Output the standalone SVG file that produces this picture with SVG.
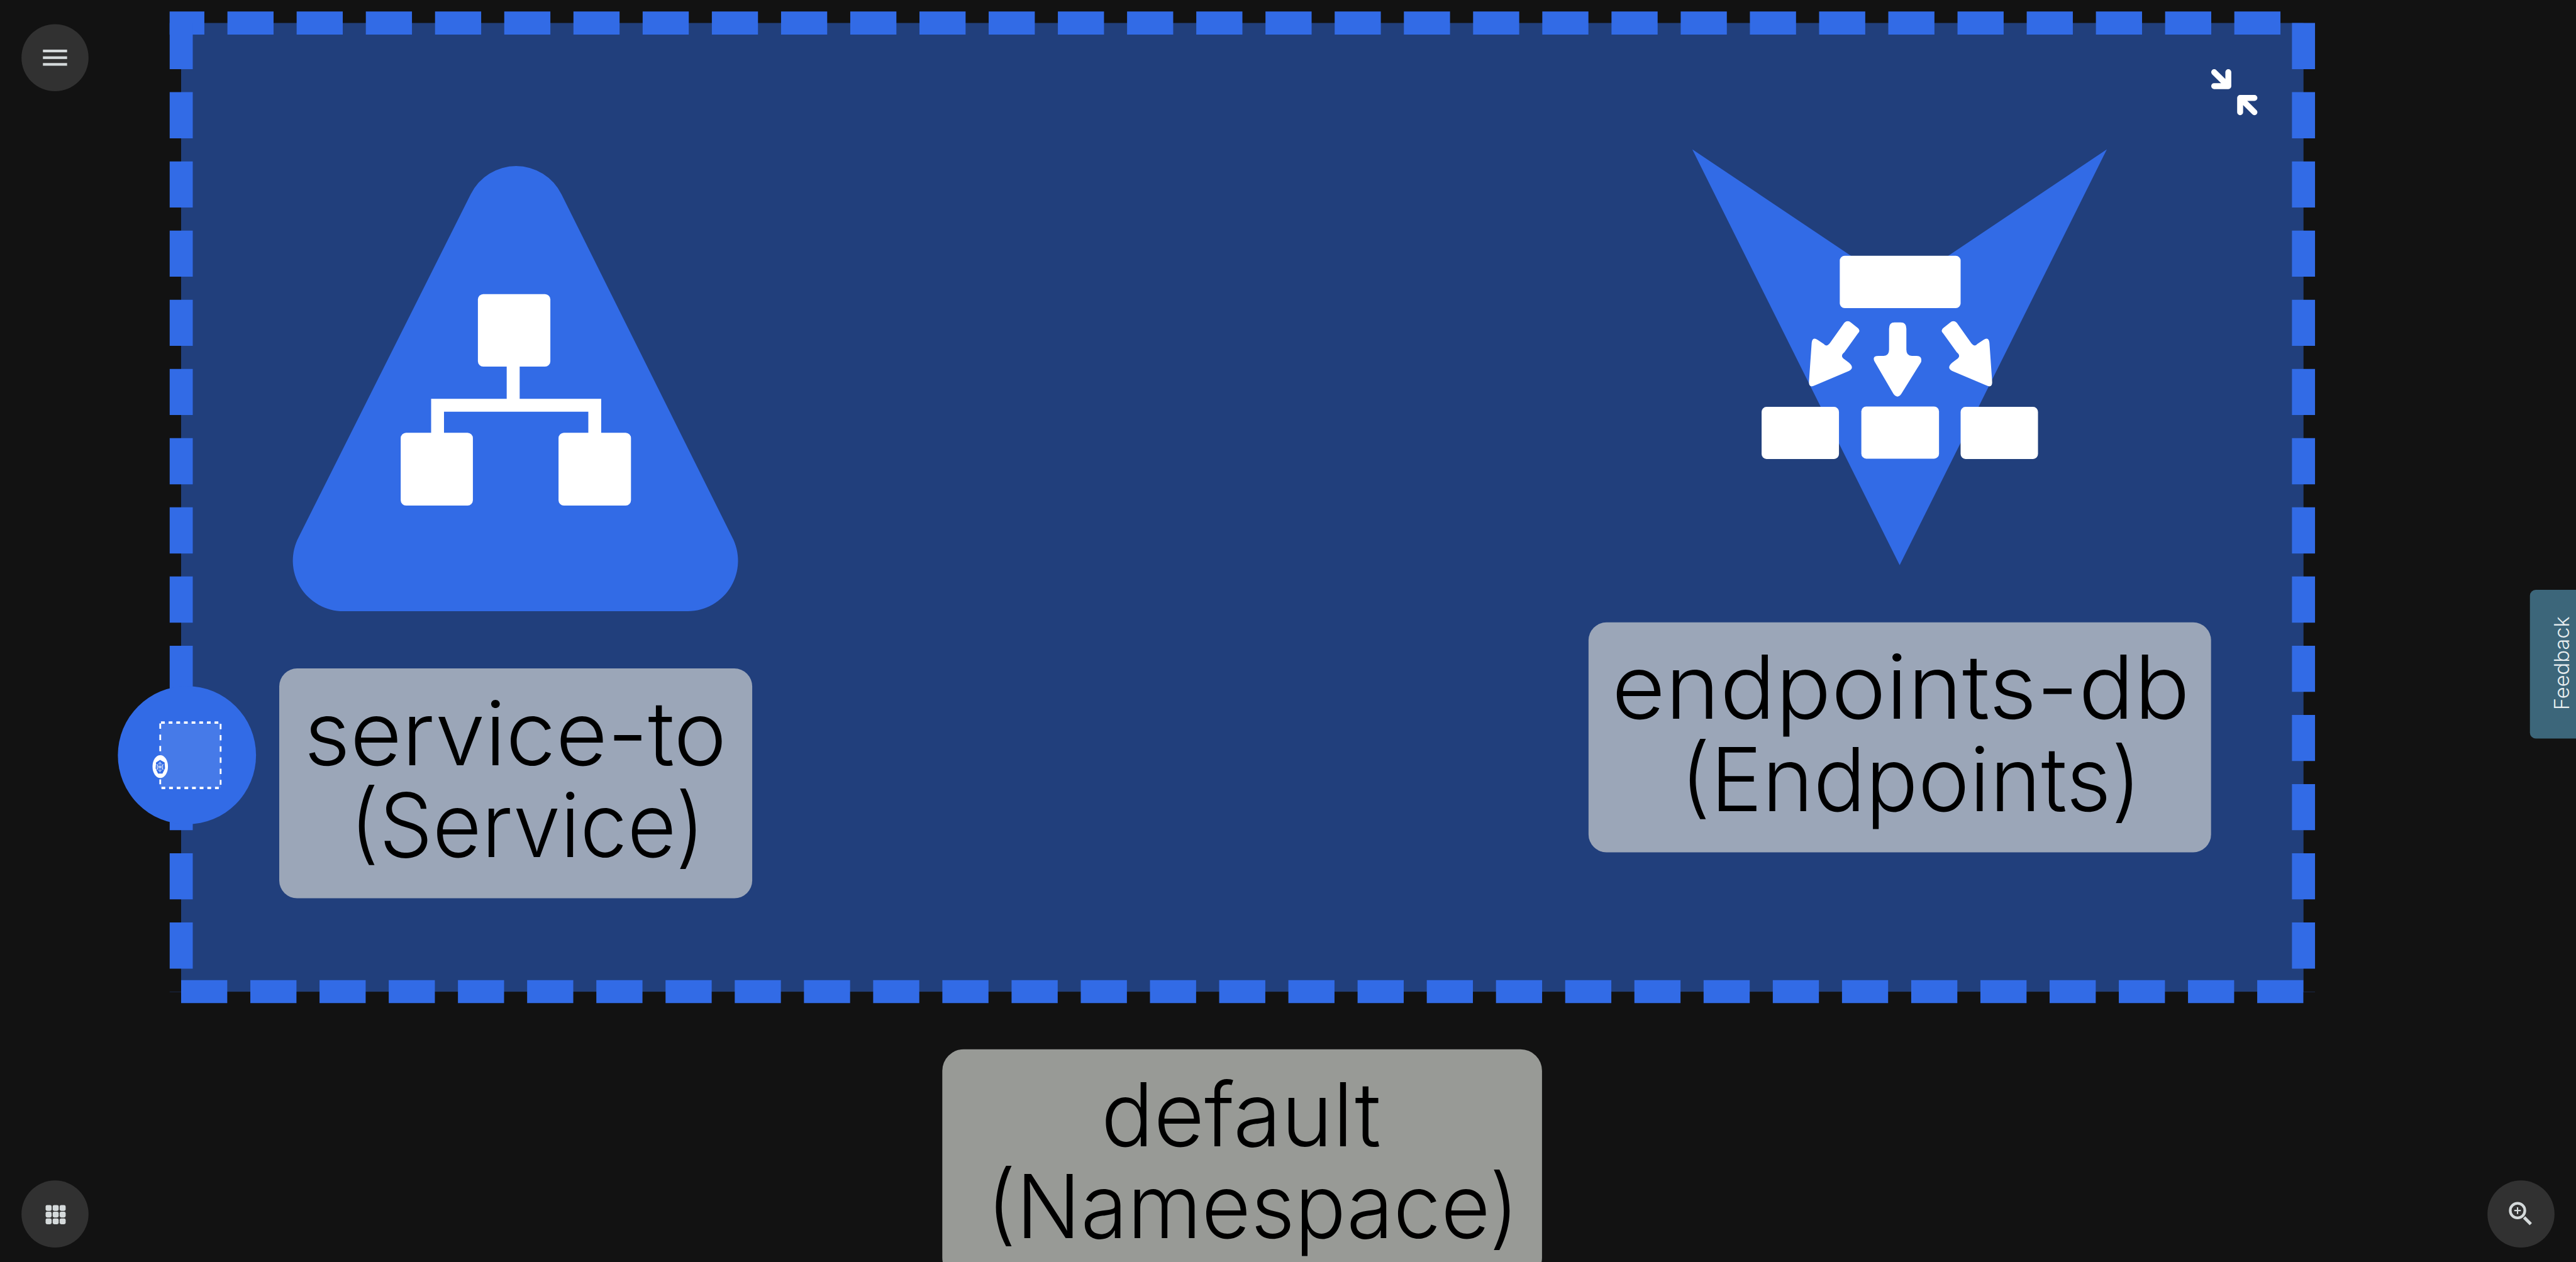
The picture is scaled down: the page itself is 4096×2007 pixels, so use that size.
<svg xmlns="http://www.w3.org/2000/svg" width="4096" height="2007" viewBox="0 0 4096 2007">
<style>
.dash{stroke:#326be6;stroke-width:51.58;stroke-dasharray:103.16 51.58;fill:none}
.blue{fill:#326be6}
.white{fill:#fff}
.lab{font-family:Inter,"Liberation Sans",sans-serif;font-weight:300;font-size:198px;fill:#000}
.btn{fill:#313131}
.ico{fill:#d5dadb}
.box-label{fill:#9ba6b8}
.dot{stroke:#fff;fill:none}
.ar{stroke:#fff;stroke-width:13.3;stroke-linecap:round;stroke-linejoin:round;fill:none}
</style>
<rect width="4096" height="2007" fill="#121212"/>
<g transform="scale(0.71111)">
<g id="connectors"/>
<g id="namespace-default">
<rect x="405" y="51.4" width="4745.7" height="2166.5" fill="#213f7c"/>
<line class="dash" x1="379.3" y1="51.4" x2="5150" y2="51.4" stroke-dashoffset="25.5"/>
<line class="dash" x1="5150.7" y1="51.4" x2="5150.7" y2="2218"/>
<line class="dash" x1="405" y1="2217.7" x2="5150.7" y2="2217.7"/>
<line class="dash" x1="405.2" y1="51.4" x2="405.2" y2="2218"/>
<g id="collapse-icon">
<path class="ar" d="M4951,161.4L4982.6,192.6M4982.6,161.4V192.6H4951"/>
<path class="ar" d="M5041,219H5009V251M5009,219L5041,251"/>
</g>
</g>
<g id="label-default">
<rect x="2107" y="2346.7" width="1341" height="514" rx="48" fill="#989a96"/>
<text class="lab" transform="translate(2462,2563) scale(0.988,1)">default</text>
<text class="lab" transform="translate(2206,2769.4) scale(0.96,1)">(Namespace)</text>
</g>
<g id="service-to">
<path class="blue" d="M1052.5,434.7A113,113 0 0 1 1255.5,434.7L1637,1201A113,113 0 0 1 1538,1367H768A113,113 0 0 1 668,1201Z"/>
<g class="white">
<rect x="1068.6" y="657.8" width="162" height="162" rx="12"/>
<rect x="896" y="967.8" width="161.4" height="162.8" rx="12"/>
<rect x="1248.9" y="967.8" width="162" height="162.8" rx="12"/>
<path d="M1133,815H1162V892H1344.3V972H1315.5V920.9H992.8V972H964V892H1133Z"/>
</g>
<rect x="624.4" y="1495" width="1057.6" height="514" rx="40" class="box-label"/>
<text class="lab" transform="translate(680,1711) scale(1.008,1)">service-to</text>
<text class="lab" transform="translate(782,1917) scale(0.955,1)">(Service)</text>
</g>
<g id="endpoints-db">
<path class="blue" d="M3784,334L4247.7,645L4711,334L4247.7,1264Z"/>
<g class="white">
<rect x="4113.8" y="572" width="270.2" height="117" rx="11"/>
<rect x="3939" y="910" width="173" height="116.4" rx="11"/>
<rect x="4162" y="909" width="173.7" height="116.7" rx="11"/>
<rect x="4384" y="910" width="173" height="116.4" rx="11"/>
<path id="arrow-l" d="M4124,721.8Q4131.6,715 4139.3,721.8L4153,732.5Q4162,738.6 4153.6,746.8L4124,787.9Q4113,796.8 4125,804L4134.2,811Q4149,823.6 4131.6,830.7L4060.2,861Q4043,870 4045,852L4051,766.4Q4052.6,752 4064.3,760L4078,769.3Q4084,777 4091.8,767Z"/>
<path d="M4224,735Q4224,721 4236,721H4250Q4262.7,721 4262.7,735V782Q4262.7,796 4275,796H4285Q4299,796 4295.5,810L4251.5,880.7Q4243,893 4233.7,880.7L4191.8,809Q4185,796 4200.5,796H4212Q4224,796 4224,782Z"/>
<path transform="translate(8499.4,0) scale(-1,1)" d="M4124,721.8Q4131.6,715 4139.3,721.8L4153,732.5Q4162,738.6 4153.6,746.8L4124,787.9Q4113,796.8 4125,804L4134.2,811Q4149,823.6 4131.6,830.7L4060.2,861Q4043,870 4045,852L4051,766.4Q4052.6,752 4064.3,760L4078,769.3Q4084,777 4091.8,767Z"/>
</g>
<rect x="3552" y="1392" width="1392" height="514" rx="40" class="box-label"/>
<text class="lab" transform="translate(3604,1608) scale(1.045,1)">endpoints-db</text>
<text class="lab" transform="translate(3757,1814) scale(0.982,1)">(Endpoints)</text>
</g>
<g id="pod-badge">
<circle class="blue" cx="418" cy="1689" r="154.5"/>
<rect x="358" y="1616" width="135.5" height="146.3" fill="#fff" fill-opacity="0.1"/>
<path class="dot" stroke-width="5.3" stroke-dasharray="8.5 8.6" d="M360,1616H491"/>
<path class="dot" stroke-width="5.3" stroke-dasharray="8.5 8.6" d="M361,1762.3H490"/>
<path class="dot" stroke-width="4" stroke-dasharray="12 13" d="M358.3,1618V1754"/>
<path class="dot" stroke-width="4" stroke-dasharray="12 13" d="M493.3,1619V1755"/>
<ellipse class="white" cx="358.3" cy="1714.3" rx="17.3" ry="25.5"/>
<polygon class="blue" points="358,1699.3 368,1705 369,1718.3 363.3,1730 353.3,1730 348,1718.3 349,1705"/>
<g stroke="#fff" stroke-width="1" fill="none">
<ellipse cx="357.7" cy="1715.3" rx="6.3" ry="9"/>
<path d="M357.7,1703.5V1727M349,1709.5L366.5,1721M349,1721L366.5,1709.5M351,1715.3H364.5"/>
</g>
</g>
<g id="feedback">
<rect x="5657" y="1319" width="150" height="332.7" rx="13" fill="#3c667a"/>
<text transform="translate(5744,1588) rotate(-90)" font-family="Inter,'Liberation Sans',sans-serif" font-weight="300" font-size="46" fill="#e8eef0">Feedback</text>
</g>
<g id="menu-button">
<circle class="btn" cx="123" cy="129" r="75"/>
<g class="ico"><rect x="96" y="111" width="54" height="6"/><rect x="96" y="126" width="54" height="6"/><rect x="96" y="141" width="54" height="6"/></g>
</g>
<g id="grid-button">
<circle class="btn" cx="123" cy="2715" r="75"/>
<g class="ico">
<rect x="102" y="2695" width="13.4" height="13" rx="3.5"/><rect x="117.8" y="2695" width="13.4" height="13" rx="3.5"/><rect x="133.4" y="2695" width="13.4" height="13" rx="3.5"/>
<rect x="102" y="2710" width="13.4" height="13" rx="3.5"/><rect x="117.8" y="2710" width="13.4" height="13" rx="3.5"/><rect x="133.4" y="2710" width="13.4" height="13" rx="3.5"/>
<rect x="102" y="2725" width="13.4" height="13" rx="3.5"/><rect x="117.8" y="2725" width="13.4" height="13" rx="3.5"/><rect x="133.4" y="2725" width="13.4" height="13" rx="3.5"/>
</g>
</g>
<g id="zoom-button">
<circle class="btn" cx="5637" cy="2715" r="75"/>
<g fill="none" stroke="#d5dadb">
<circle cx="5629.3" cy="2707.3" r="16.3" stroke-width="6"/>
<path stroke-width="7" d="M5644,2722.7L5659,2737.5"/>
<path stroke-width="3" d="M5622,2707.3H5636.7M5629.3,2700V2715"/>
</g>
</g>
</g>
</svg>
